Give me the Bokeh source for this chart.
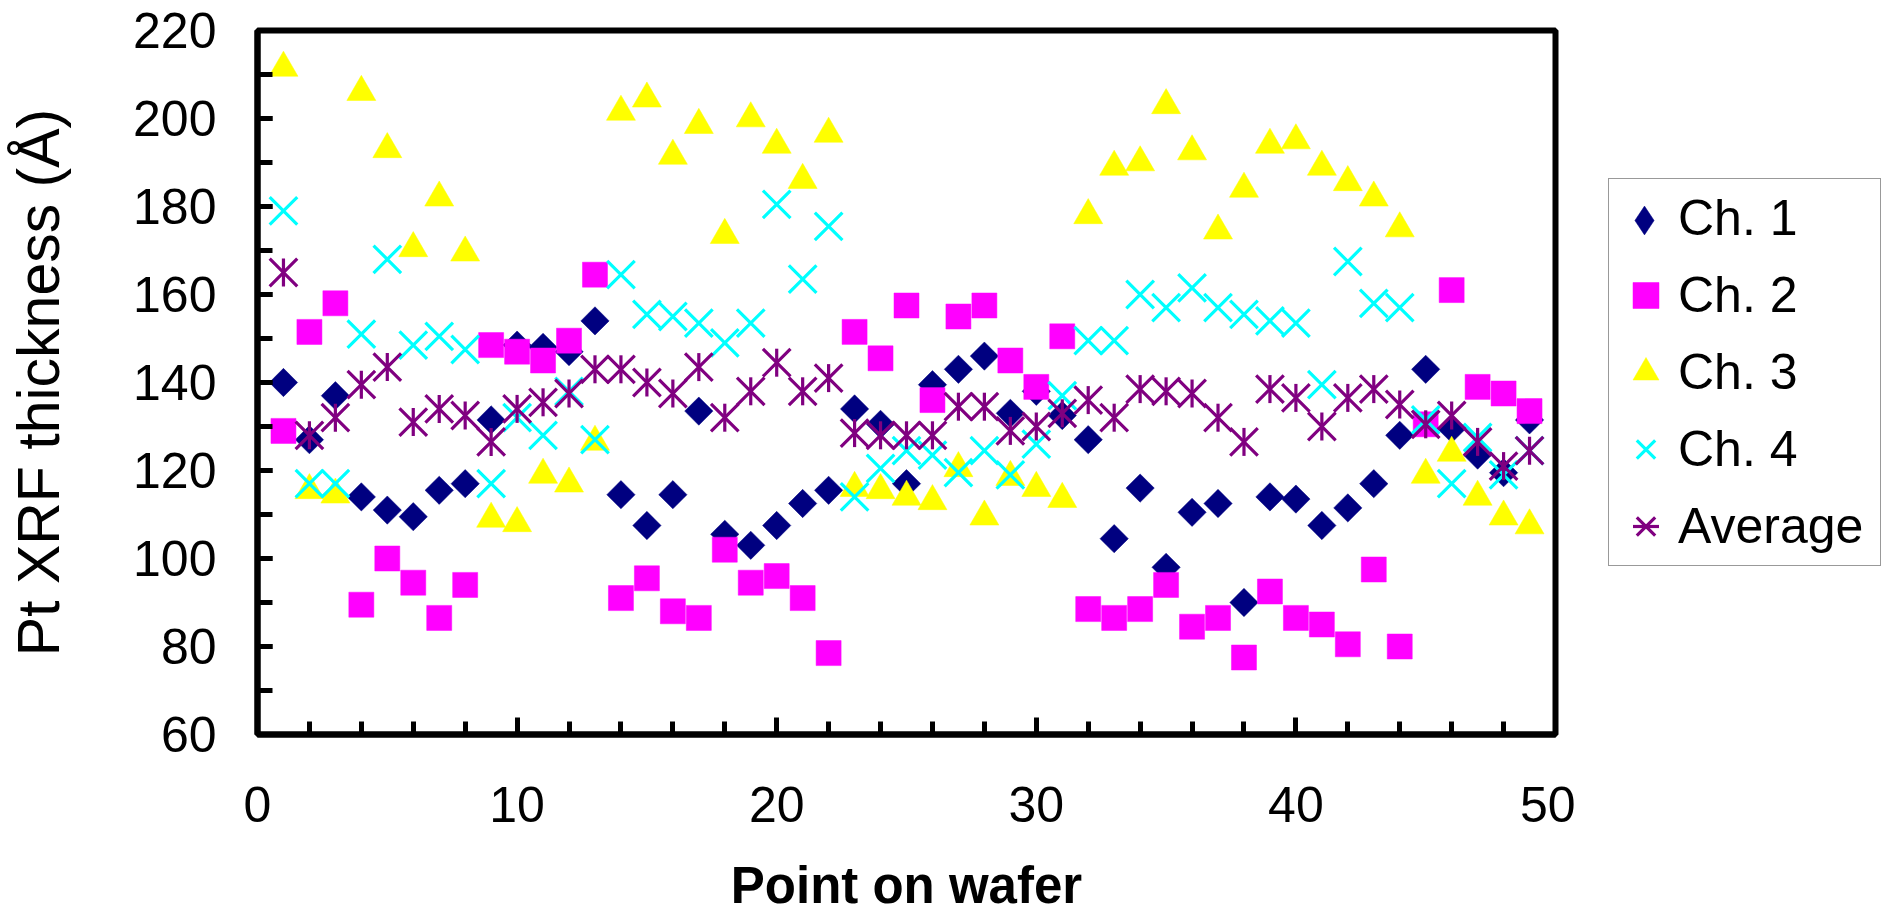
import math
from bokeh.plotting import figure
from bokeh.layouts import row
from bokeh.models import FixedTicker, Legend, LegendItem, Range1d, ColumnDataSource
from bokeh.embed import file_html
from bokeh.resources import INLINE

# ---------------- data ----------------
points = [1, 2, 3, 4, 5, 6, 7, 8, 9, 10, 11, 12, 13, 14, 15, 16, 17, 18, 19, 20,
          21, 22, 23, 24, 25, 26, 27, 28, 29, 30, 31, 32, 33, 34, 35, 36, 37, 38, 39, 40,
          41, 42, 43, 44, 45, 46, 47, 48, 49]

ch1 = [140, 127, 137, 114, 111, 109.5, 115.5, 117, 131.5, 148.5, 148, 147, 154, 114.5, 107.5,
       114.5, 133.5, 105.5, 103, 107.5, 112.5, 115.5, 134, 130.5, 117, 139.5, 143, 146, 133, 138,
       132.5, 127, 104.5, 116, 98, 110.5, 112.5, 90, 114, 113.5, 107.5, 111.5, 117, 128, 143,
       129.5, 123.5, 119.5, 131.5]

ch2 = [129, 151.5, 158, 89.5, 100, 94.5, 86.5, 94, 148.5, 147, 145, 149.5, 164.5, 91, 95.5,
       88, 86.5, 102, 94.5, 96, 91, 78.5, 151.5, 145.5, 157.5, 136, 155, 157.5, 145, 139,
       150.5, 88.5, 86.5, 88.5, 94, 84.5, 86.5, 77.5, 92.5, 86.5, 85, 80.5, 97.5, 80, 130.5,
       161, 139, 137.5, 133.5]

ch3 = [211.5, 115.5, 114.5, 206, 193, 170.5, 182, 169.5, 109, 108, 119, 117, 126.5, 201.5, 204.5,
       191.5, 198.5, 173.5, 200, 194, 186, 196.5, 116, 115.5, 114, 113, 120.5, 109.5, 118.5, 116,
       113.5, 178, 189, 190, 203, 192.5, 174.5, 184, 194, 195, 189, 185.5, 182, 175, 119,
       124, 114, 109.5, 107.5]

ch4 = [179, 117, 117, 151, 168, 148.5, 150.5, 147.5, 117, 132, 128, 138, 127, 164.5, 155.5,
       155, 153.5, 149, 153.5, 180.5, 163.5, 175.5, 114, 120.5, 124.5, 123.5, 119.5, 124.5, 119, 126,
       137, 149.5, 149.5, 160, 157, 161.5, 157, 155.5, 154, 153.5, 139.5, 167.5, 158, 157, 131.5,
       117, 127.5, 119, 124.5]

average = [165, 128, 132, 139.5, 143.5, 131, 134, 132.5, 126.5, 134, 135.5, 137.5, 143, 143, 140,
           137.5, 143.5, 132, 138, 144.5, 138, 141, 128.5, 128, 128, 128, 134.5, 134.5, 129, 130,
           133, 136, 132, 138.5, 138, 137.5, 132, 126.5, 138.5, 136.5, 130, 136.5, 138.5, 135, 130.5,
           132.5, 126.5, 121, 124.5]

series_names = ["Ch. 1", "Ch. 2", "Ch. 3", "Ch. 4", "Average"]
x_ticks = [0, 10, 20, 30, 40, 50]
x_minor_ticks = [0, 2, 4, 6, 8, 10, 12, 14, 16, 18, 20, 22, 24, 26, 28, 30, 32, 34, 36, 38,
                 40, 42, 44, 46, 48, 50]
y_ticks = [60, 80, 100, 120, 140, 160, 180, 200, 220]
y_minor_ticks = [60, 70, 80, 90, 100, 110, 120, 130, 140, 150, 160, 170, 180, 190, 200, 210, 220]

x_title = "Point on wafer"
y_title = "Pt XRF thickness (\u00c5)"

# ---------------- styles ----------------
FONT = "Liberation Sans"
C1, C2, C3, C4, C5 = "#000080", "#FF00FF", "#FFFF00", "#00FFFF", "#800080"
STY1 = dict(marker="square", angle=math.pi / 4, fill_color=C1, line_color=C1, line_width=0.5)
STY1L = dict(marker="diamond", fill_color=C1, line_color=C1, line_width=0.5)
STY2 = dict(marker="square", fill_color=C2, line_color=C2, line_width=0.5)
STY3 = dict(marker="triangle", fill_color=C3, line_color=C3, line_width=0.5)
STY4 = dict(marker="x", line_color=C4, line_width=3.2)
STY5A = dict(marker="x", line_color=C5, line_width=3.2)
STY5B = dict(marker="dash", angle=math.pi / 2, line_color=C5, line_width=3.2)

# ---------------- main figure ----------------
W, H = 1881, 916
FL, FR, FT, FB = 257, 1555, 30, 735
PW = 1575           # width of the plotting figure
LW = W - PW         # width of the legend figure

p = figure(width=PW, height=H, output_backend="svg", toolbar_location=None,
           x_range=Range1d(0, 50), y_range=Range1d(60, 220),
           min_border_left=FL, min_border_right=PW - FR,
           min_border_top=FT, min_border_bottom=H - FB)

p.background_fill_color = "white"
p.border_fill_color = "white"
p.outline_line_color = "black"
p.outline_line_width = 6
p.xgrid.visible = False
p.ygrid.visible = False

p.xaxis.ticker = FixedTicker(ticks=x_ticks, minor_ticks=x_minor_ticks)
p.yaxis.ticker = FixedTicker(ticks=y_ticks, minor_ticks=y_minor_ticks)

for ax in (p.xaxis, p.yaxis):
    ax.axis_line_color = "black"
    ax.axis_line_width = 6
    ax.major_tick_line_color = "black"
    ax.minor_tick_line_color = "black"
    ax.major_tick_line_width = 5
    ax.minor_tick_line_width = 5
    ax.major_tick_out = 0
    ax.minor_tick_out = 0
    ax.major_label_text_font = FONT
    ax.major_label_text_font_size = "50px"
    ax.major_label_text_color = "black"
    ax.axis_label_text_font = FONT
    ax.axis_label_text_color = "black"
    ax.axis_label_text_font_style = "normal"

p.xaxis.major_tick_in = 17
p.xaxis.minor_tick_in = 13
p.yaxis.major_tick_in = 15
p.yaxis.minor_tick_in = 15

p.xaxis.axis_label = x_title
p.xaxis.axis_label_text_font_style = "bold"
p.xaxis.axis_label_text_font_size = "51px"
p.xaxis.major_label_standoff = 52
p.xaxis.axis_label_standoff = 32

p.yaxis.axis_label = y_title
p.yaxis.axis_label_text_font_size = "59px"
p.yaxis.major_label_standoff = 41
p.yaxis.axis_label_standoff = 58

src = ColumnDataSource(data=dict(x=points, ch1=ch1, ch2=ch2, ch3=ch3, ch4=ch4, avg=average))

p.scatter("x", "ch1", source=src, size=20, **STY1)
p.scatter("x", "ch2", source=src, size=25, **STY2)
p.scatter("x", "ch3", source=src, size=29, **STY3)
p.scatter("x", "ch4", source=src, size=39, **STY4)
p.scatter("x", "avg", source=src, size=39, **STY5A)
p.scatter("x", "avg", source=src, size=28, **STY5B)

# ---------------- legend figure ----------------
# The same series are drawn here with ranges that keep every point out of view,
# so that the legends of this side figure have real renderers to show.
# Its borders equal those of the main figure (the row aligns the frames).
q = figure(width=LW, height=H, output_backend="svg", toolbar_location=None,
           x_range=Range1d(-1000, -999), y_range=Range1d(-1000, -999),
           x_axis_type=None, y_axis_type=None,
           min_border_left=0, min_border_right=0,
           min_border_top=FT, min_border_bottom=H - FB)
q.outline_line_color = None
q.background_fill_color = "white"
q.border_fill_color = "white"
q.xgrid.visible = False
q.ygrid.visible = False

g0 = q.scatter("x", "ch1", source=src, marker="square", size=1, fill_alpha=0, line_alpha=0)
g1 = q.scatter("x", "ch1", source=src, **STY1L)
g2 = q.scatter("x", "ch2", source=src, **STY2)
g3 = q.scatter("x", "ch3", source=src, **STY3)
g4 = q.scatter("x", "ch4", source=src, **STY4)
g5a = q.scatter("x", "avg", source=src, **STY5A)
g5b = q.scatter("x", "avg", source=src, **STY5B)

BOX_L, BOX_B = 1608, 567     # legend box left / bottom on the page
KEY_X, KEY_Y = 1644, 221     # centre of the first legend key on the page

legend_main = Legend(
    items=[LegendItem(label=series_names[0], renderers=[g0]),
           LegendItem(label=series_names[1], renderers=[g2]),
           LegendItem(label=series_names[2], renderers=[g3]),
           LegendItem(label=series_names[3], renderers=[g4]),
           LegendItem(label=series_names[4], renderers=[g5a, g5b])],
    location=(BOX_L - PW, FB - BOX_B),
    orientation="vertical",
    glyph_width=65, glyph_height=70,
    label_standoff=0, label_width=198,
    spacing=7, padding=4, margin=0,
    label_text_font=FONT, label_text_font_size="50px", label_text_color="black",
    border_line_color="#333333", border_line_width=1.5,
    background_fill_color="white", background_fill_alpha=1.0,
)
q.add_layout(legend_main, "center")

KEY = 72
legend_ch1 = Legend(
    items=[LegendItem(label=" ", renderers=[g1])],
    location=(KEY_X - KEY / 2 - PW, FB - (KEY_Y + KEY / 2)),
    glyph_width=KEY, glyph_height=KEY,
    label_standoff=0, label_width=1, label_height=1,
    label_text_font_size="1px",
    spacing=0, padding=0, margin=0,
    border_line_alpha=0, background_fill_alpha=0,
)
q.add_layout(legend_ch1, "center")

layout = row(p, q, spacing=0)
open("out.html", "w").write(file_html(layout, INLINE))
